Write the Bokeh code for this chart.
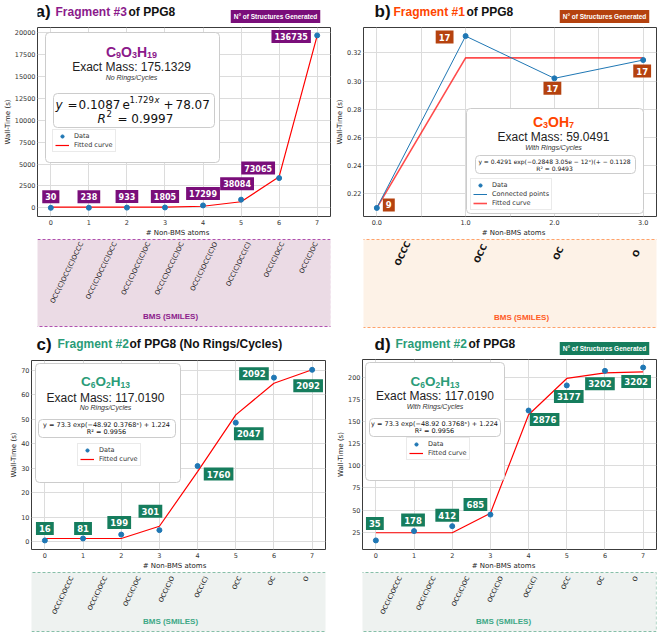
import math
from bokeh.plotting import figure
from bokeh.models import (Range1d, FixedTicker, NumeralTickFormatter, Label,
                          BoxAnnotation, Legend, LegendItem)
from bokeh.layouts import row, column
from bokeh.embed import file_html
from bokeh.resources import INLINE
from bokeh.core.properties import value

# ---------------- data ----------------
n_atoms = [0, 1, 2, 3, 4, 5, 6, 7]

a_wall = [5, 15, 30, 45, 280, 940, 3400, 19700]
a_fit = [78, 79, 82, 97, 188, 700, 3560, 19680]
a_structs = [30, 238, 933, 1805, 17299, 38084, 73065, 136735]
a_smiles = ["OCC(C)OCC(C)OCCC", "OCC(C)OCC(C)OCC", "OCC(C)OCC(C)OC",
            "OCC(C)OCC(C)OC", "OCC(C)OCC(C)O", "OCC(C)OCC(C)",
            "OCC(C)OCC", "OCC(C)OC"]
a_formula = [("C", "9"), ("O", "3"), ("H", "19")]

b_atoms = [0.0, 1.0, 2.0, 3.0]
b_wall = [0.210, 0.332, 0.302, 0.315]
b_fit = [0.210, 0.3165, 0.3165, 0.3165]
b_structs = [9, 17, 17, 17]
b_smiles = ["OCCC", "OCC", "OC", "O"]
b_formula = [("C", "3"), ("O", ""), ("H", "7")]

c_wall = [0.5, 1.3, 2.9, 4.7, 30.9, 48.6, 67.0, 70.2]
c_fit = [1.3, 1.3, 1.3, 6.3, 28.6, 51.8, 64.7, 70.2]
c_structs = [16, 81, 199, 301, 1760, 2047, 2092, 2092]

d_wall = [15.5, 26.1, 31.7, 44.8, 162.9, 191.4, 207.9, 211.7]
d_fit = [24.2, 24.2, 24.2, 46.4, 158.1, 199.3, 205.6, 206.7]
d_structs = [35, 178, 412, 685, 2876, 3177, 3202, 3202]

cd_smiles = ["OCC(C)OCCC", "OCC(C)OCC", "OCC(C)OC", "OCC(C)O",
             "OCC(C)", "OCC", "OC", "O"]
cd_formula = [("C", "6"), ("O", "2"), ("H", "13")]

a_ticks = [0, 2500, 5000, 7500, 10000, 12500, 15000, 17500, 20000]
b_ticks = [0.22, 0.24, 0.26, 0.28, 0.30, 0.32]
c_ticks = [0, 10, 20, 30, 40, 50, 60, 70]
d_ticks = [25, 50, 75, 100, 125, 150, 175, 200]

# ---------------- layout / style (pixels) ----------------
a_off = [(0, 11), (0, 11), (0, 11), (0, 11), (0, 12), (-4, 16), (-21, 10), (-26, -1)]
b_off = [(12, 3), (-21, -1), (-2, -10), (-1, -11)]
c_off = [(0, 12), (0, 10), (-2, 12), (-9, 19), (21, -8), (13, -11), (-20, 4), (-4, -16)]
d_off = [(-1, 17), (-1, 11), (-5, 11), (-15, 10), (16, -9), (2, -11), (-5, -13), (-7, -14)]

PURPLE = "#8B1A8B"
PURPLE_BADGE = "#7A0E7A"
ORANGE = "#FF4500"
ORANGE_BADGE = "#B5420F"
TEAL = "#2A9C78"
TEAL_BADGE = "#167D5D"
BLUE = "#1f77b4"

SHIFT = {}


def strip_fig(h):
    p = figure(width=333, height=h, x_range=Range1d(0, 1), y_range=Range1d(0, 1),
               x_axis_type=None, y_axis_type=None, output_backend="svg",
               toolbar_location=None, title=None, min_border=0)
    p.outline_line_color = None
    p.background_fill_color = "white"
    p.border_fill_color = "white"
    SHIFT[id(p)] = 0
    return p


def main_fig(h, shift, bottom_px, xr, yr, yticks, xticks, yfmt, xfmt, left_px, right_px):
    w = 333
    p = figure(width=w, height=h, x_range=Range1d(*xr), y_range=Range1d(*yr),
               output_backend="svg", toolbar_location=None, title=None,
               min_border_left=int(round(left_px)), min_border_right=int(round(w - right_px)),
               min_border_top=0, min_border_bottom=int(round(h - (bottom_px - shift))))
    SHIFT[id(p)] = shift
    p.background_fill_color = "white"
    p.border_fill_color = "white"
    p.outline_line_color = "#3c3c3c"
    p.outline_line_width = 1
    p.xgrid.grid_line_color = "#dcdcdc"
    p.ygrid.grid_line_color = "#dcdcdc"
    p.yaxis.ticker = FixedTicker(ticks=yticks)
    p.xaxis.ticker = xticks
    p.yaxis.formatter = NumeralTickFormatter(format=yfmt)
    p.xaxis.formatter = NumeralTickFormatter(format=xfmt)
    for ax in (p.xaxis, p.yaxis):
        ax.axis_line_color = None
        ax.major_tick_line_color = None
        ax.minor_tick_line_color = None
        ax.major_tick_out = 0
        ax.major_tick_in = 0
        ax.minor_tick_out = 0
        ax.minor_tick_in = 0
        ax.major_label_text_font_size = "6.5px"
        ax.major_label_text_font = "DejaVu Sans"
        ax.major_label_text_color = "#333333"
        ax.major_label_standoff = 2
        ax.axis_label_text_font_size = "7px"
        ax.axis_label_text_font = "DejaVu Sans"
        ax.axis_label_text_font_style = "normal"
        ax.axis_label_text_color = "#222222"
        ax.axis_label_standoff = 0
    p.xaxis.major_label_standoff = 3
    p.yaxis.axis_label = "Wall-Time (s)"
    return p


def T(p, x, y, text, size, color="#222222", style="normal", align="left",
      font="Liberation Sans"):
    p.add_layout(Label(x=x, y=y - SHIFT.get(id(p), 0), x_units="canvas", y_units="canvas",
                       text=text, text_font=font, text_font_size=f"{size}px",
                       text_color=color, text_font_style=style, text_align=align,
                       text_baseline="middle"))


def formula(p, cx, y, parts, color, big=14, small=9):
    # element symbols with lowered, smaller digit subscripts (Liberation Sans Bold widths)
    wid = {"C": 0.722, "O": 0.778, "H": 0.722}
    total = sum(wid[e] * big + 0.556 * small * len(n) for e, n in parts)
    x = cx - total / 2
    for e, n in parts:
        T(p, x, y, e, big, color, "bold", "left")
        x += wid[e] * big
        if n:
            T(p, x, y + 3.5, n, small, color, "bold", "left")
            x += 0.556 * small * len(n)


def BOX(p, l, r, t, b, line="#cccccc", radius=4, fill="white", dash="solid",
        width=1, level="annotation"):
    s = SHIFT.get(id(p), 0)
    p.add_layout(BoxAnnotation(left=l, right=r, top=t - s, bottom=b - s,
                               left_units="canvas", right_units="canvas",
                               top_units="canvas", bottom_units="canvas",
                               fill_color=fill, fill_alpha=1.0, line_dash=dash,
                               line_color=line, line_alpha=1.0, line_width=width,
                               border_radius=radius, level=level))


def badge(p, x, y, color):
    p.add_layout(Label(x=x, y=y, x_units="canvas", y_units="canvas",
                       text="N° of Structures Generated", text_font="Liberation Sans",
                       text_font_size="6.5px", text_font_style="bold", text_color="white",
                       text_align="center", text_baseline="middle",
                       background_fill_color=color, background_fill_alpha=1.0, padding=3))


def count_labels(p, xs, ys, counts, offs, color, size=8):
    for xi, yi, c, (dx, dy) in zip(xs, ys, counts, offs):
        p.add_layout(Label(x=xi, y=yi, text=str(c), x_offset=dx, y_offset=dy,
                           text_align="center", text_baseline="middle",
                           text_font="DejaVu Sans", text_font_style="bold",
                           text_font_size=f"{size}px", text_color="white",
                           background_fill_color=color, background_fill_alpha=1.0,
                           padding=3))


def legend(p, items, loc):
    leg = Legend(items=items, location=loc, orientation="vertical",
                 label_text_font_size="6.5px", label_text_font="DejaVu Sans",
                 label_text_color="#333333", glyph_width=14, glyph_height=8,
                 label_height=8, label_standoff=5, spacing=1, padding=2, margin=0,
                 border_line_color="#d5d5d5", border_line_width=1,
                 background_fill_color="white", background_fill_alpha=1.0)
    p.add_layout(leg)


def smiles_fig(h, box, main_map, xs, smiles, bg, edge, fsize, bold, align,
               gap, xoff, bms_xy, bms_color, xlab_xy):
    """Strip below a plot: x-axis title + dashed SMILES box (canvas px)."""
    w = 333
    bl, br, bt, bb = box            # local canvas px of the dashed box
    gL, gR, x0, x1, ox = main_map   # main frame px (global), range, fig origin x
    k = (gR - gL) / (x1 - x0)
    start = x0 + (ox - gL) / k
    end = x0 + (ox + w - gL) / k
    p = figure(width=w, height=h, x_range=Range1d(start, end), y_range=Range1d(0, h),
               x_axis_type=None, y_axis_type=None, output_backend="svg",
               toolbar_location=None, title=None, min_border=0)
    SHIFT[id(p)] = 0
    p.background_fill_color = "white"
    p.border_fill_color = "white"
    p.outline_line_color = None
    BOX(p, bl, br, bt, bb, line=edge, radius=0, fill=bg, dash="3 2", width=1.2,
        level="underlay")
    p.text(x=xs, y=[h - bt - gap] * len(xs), text=smiles, angle=math.radians(64),
           text_align=align, text_baseline="middle", x_offset=xoff,
           text_font=value("DejaVu Sans"), text_font_size=value(f"{fsize}px"),
           text_font_style="bold" if bold else "normal", text_color="#111111")
    T(p, bms_xy[0], bms_xy[1], "BMS (SMILES)", 8, bms_color, "bold", "center")
    T(p, xlab_xy[0], xlab_xy[1], "# Non-BMS atoms", 7, "#222222", "normal", "center",
      "DejaVu Sans")
    return p


def dots_and_fit(p, xs, wall, fit, fit_alpha=1.0, fit_width=1.2, connect=False):
    items = []
    ln = p.line(xs, fit, line_color="red", line_width=fit_width, line_alpha=fit_alpha)
    sc = p.scatter(xs, wall, size=5, color=BLUE)
    items.append(LegendItem(label="Data", renderers=[sc]))
    if connect:
        cl = p.line(xs, wall, line_color=BLUE, line_width=1)
        items.append(LegendItem(label="Connected points", renderers=[cl]))
    items.append(LegendItem(label="Fitted curve", renderers=[ln]))
    return items


# ================= panel a =================
a_t = strip_fig(27)
T(a_t, 35, 11, "a)", 17, "#111111", "bold")
T(a_t, 55, 11, "Fragment #3", 12, PURPLE, "bold")
T(a_t, 128, 11, "of PPG8", 12, "#111111", "bold")
badge(a_t, 275, 16, PURPLE_BADGE)

a = main_fig(200, 27, 217, (-0.35, 7.35), (-985, 20600), a_ticks,
             FixedTicker(ticks=n_atoms), "0", "0", 35, 330)
a_items = dots_and_fit(a, n_atoms, a_wall, a_fit)
BOX(a, 45, 219, 32, 162)
formula(a, 131, 51, a_formula, PURPLE)
T(a, 131, 66, "Exact Mass: 175.1329", 12, "#222222", "normal", "center")
T(a, 131, 77, "No Rings/Cycles", 7, "#333333", "italic", "center")
BOX(a, 53, 214, 93, 127)
T(a, 55, 104, "y", 12, "#111111", "italic", "left", "DejaVu Sans")
T(a, 67, 104, "=", 12, "#111111", "normal", "left", "DejaVu Sans")
T(a, 78, 104, "0.1087", 12, "#111111", "normal", "left", "DejaVu Sans")
T(a, 122, 104, "e", 12, "#111111", "normal", "left", "DejaVu Sans")
T(a, 129, 99, "1.729", 8.5, "#111111", "normal", "left", "DejaVu Sans")
T(a, 154, 99, "x", 8.5, "#111111", "italic", "left", "DejaVu Sans")
T(a, 163, 104, "+", 12, "#111111", "normal", "left", "DejaVu Sans")
T(a, 175, 104, "78.07", 12, "#111111", "normal", "left", "DejaVu Sans")
T(a, 97, 118, "R", 12, "#111111", "italic", "left", "DejaVu Sans")
T(a, 106, 113, "2", 8.5, "#111111", "normal", "left", "DejaVu Sans")
T(a, 117, 118, "= 0.9997", 12, "#111111", "normal", "left", "DejaVu Sans")
legend(a, a_items, (15, 64))
count_labels(a, n_atoms, a_wall, a_structs, a_off, PURPLE_BADGE, 8)

# strip starts at y=227 (global) and ends at 330
a_s = smiles_fig(103, (12, 331, 12, 99), (37, 330, -0.35, 7.35, 0), n_atoms, a_smiles,
                 "#EBDBE5", "#B050B0", 6.6, False, "right", 3, 0, (170, 89), PURPLE,
                 (177, 5.5))

# ================= panel b =================
b_t = strip_fig(27)
T(b_t, 41, 11, "b)", 17, "#111111", "bold")
T(b_t, 60, 11, "Fragment #1", 12, ORANGE, "bold")
T(b_t, 133, 11, "of PPG8", 12, "#111111", "bold")
badge(b_t, 271, 16, ORANGE_BADGE)

b = main_fig(200, 27, 216, (-0.15, 3.15), (0.2039, 0.3381), b_ticks,
             FixedTicker(ticks=b_atoms, minor_ticks=[0.5, 1.5, 2.5]), "0.00", "0.0", 28, 323)
b.xgrid.minor_grid_line_color = "#dcdcdc"
b_items = dots_and_fit(b, b_atoms, b_wall, b_fit, fit_alpha=0.7, fit_width=1.6, connect=True)
BOX(b, 133, 310, 108, 213)
formula(b, 220, 121, b_formula, ORANGE)
T(b, 220, 136, "Exact Mass: 59.0491", 12, "#222222", "normal", "center")
T(b, 220, 147, "With Rings/Cycles", 7, "#333333", "italic", "center")
BOX(b, 142, 302, 155, 173)
T(b, 221, 160.5, "y = 0.4291 exp(−0.2848 3.05e − 12ˣ)(+ − 0.1128", 6, "#111111",
  "normal", "center", "DejaVu Sans")
T(b, 221, 168, "R² = 0.9493", 6, "#111111", "normal", "center", "DejaVu Sans")
legend(b, b_items, (107, 6))
count_labels(b, b_atoms, b_wall, b_structs, b_off, ORANGE_BADGE, 8.5)

b_s = smiles_fig(103, (28, 331, 12, 100), (364, 656, -0.15, 3.15, 333), b_atoms, b_smiles,
                 "#FDF2E7", "#FFA36B", 8.5, True, "center", 14, 0, (188, 90), "#FF5A1F",
                 (180, 5.5))

# ================= panel c =================
c_t = strip_fig(30)
T(c_t, 36, 13.5, "c)", 17, "#111111", "bold")
T(c_t, 57, 13.5, "Fragment #2", 12, TEAL, "bold")
T(c_t, 129, 13.5, "of PPG8 (No Rings/Cycles)", 12, "#111111", "bold")

c = main_fig(200, 30, 220, (-0.35, 7.35), (-3.2, 74), c_ticks,
             FixedTicker(ticks=n_atoms), "0", "0", 31, 325)
c_items = dots_and_fit(c, n_atoms, c_wall, c_fit)
BOX(c, 35, 180, 33, 152)
formula(c, 105, 51, cd_formula, TEAL, 13.5, 8.5)
T(c, 105, 67, "Exact Mass: 117.0190", 12, "#222222", "normal", "center")
T(c, 105, 77, "No Rings/Cycles", 7, "#333333", "italic", "center")
BOX(c, 38, 175, 89, 107)
T(c, 106, 94, "y = 73.3 exp(−48.92 0.3768ˣ) + 1.224", 6.5, "#111111", "normal",
  "center", "DejaVu Sans")
T(c, 106, 101.5, "R² = 0.9956", 6.5, "#111111", "normal", "center", "DejaVu Sans")
legend(c, c_items, (46, 83))
count_labels(c, n_atoms, c_wall, c_structs, c_off, TEAL_BADGE, 8.5)

# strip from 560 to 632
c_s = smiles_fig(72, (12, 331, 12, 71), (32, 325, -0.35, 7.35, 0), n_atoms, cd_smiles,
                 "#EEF2F0", "#86BFA8", 6.3, False, "right", 4, 0, (170, 61), "#3DA886",
                 (174, 5.5))

# ================= panel d =================
d_t = strip_fig(29)
T(d_t, 41, 13.5, "d)", 17, "#111111", "bold")
T(d_t, 62, 13.5, "Fragment #2", 12, TEAL, "bold")
T(d_t, 135, 13.5, "of PPG8", 12, "#111111", "bold")
badge(d_t, 271, 18, TEAL_BADGE)

d = main_fig(201, 29, 221, (-0.35, 7.35), (5.2, 220.8), d_ticks,
             FixedTicker(ticks=n_atoms), "0", "0", 29, 323)
d_items = dots_and_fit(d, n_atoms, d_wall, d_fit)
BOX(d, 32, 171, 32, 150)
formula(d, 101.5, 51, cd_formula, TEAL, 13.5, 8.5)
T(d, 101.5, 65.5, "Exact Mass: 117.0190", 12, "#222222", "normal", "center")
T(d, 101.5, 76, "With Rings/Cycles", 7, "#333333", "italic", "center")
BOX(d, 36, 167, 88, 106)
T(d, 101, 93, "y = 73.3 exp(−48.92 0.3768ˣ) + 1.224", 6.5, "#111111", "normal",
  "center", "DejaVu Sans")
T(d, 101, 100.5, "R² = 0.9956", 6.5, "#111111", "normal", "center", "DejaVu Sans")
legend(d, d_items, (44, 89))
count_labels(d, n_atoms, d_wall, d_structs, d_off, TEAL_BADGE, 8.5)

d_s = smiles_fig(72, (12, 323, 12, 71), (362, 656, -0.35, 7.35, 333), n_atoms, cd_smiles,
                 "#EEF2F0", "#86BFA8", 6.3, False, "right", 4, 0, (170, 61), "#3DA886",
                 (170, 5.5))

layout = column(row(column(a_t, a, a_s), column(b_t, b, b_s)),
                row(column(c_t, c, c_s), column(d_t, d, d_s)))

open("out.html", "w").write(file_html(layout, INLINE))
